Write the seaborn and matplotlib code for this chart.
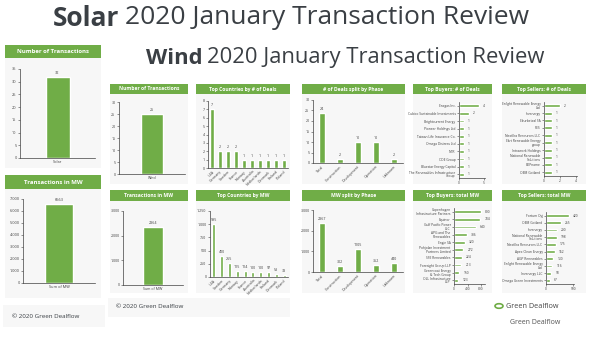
import matplotlib
matplotlib.use("Agg")
import matplotlib.pyplot as plt
import seaborn as sns
from matplotlib.patches import Rectangle

W, H = 591, 338
sns.set_theme(style="white")
plt.rcParams['font.family'] = ['Open Sans', 'DejaVu Sans']

GREEN = "#70ad47"
PANEL = "#f7f7f7"
DARK = "#3a3f44"
AX = "#404040"

# ---------------- data ----------------
solar_count_cat = ["Solar"]
solar_count = [32]
solar_mw_cat = ["Sum of MW"]
solar_mw = [6563]

wind_count_cat = ["Wind"]
wind_count = [25]
wind_mw_cat = ["Sum of MW"]
wind_mw = [2364]

countries_deals = ["USA", "Germany", "Sweden", "France", "Norway", "Australia",
                   "Netherlands", "Denmark", "Finland", "Poland"]
countries_deals_val = [7, 2, 2, 2, 1, 1, 1, 1, 1, 1]

phases = ["Total", "Construction", "Development", "Operation", "Unknown"]
phase_deals = [24, 2, 10, 10, 2]
phase_mw = [2367, 302, 1105, 352, 440]

countries_mw = ["USA", "Sweden", "Germany", "Norway", "France", "Australia",
                "Netherlands", "Finland", "Denmark", "Poland"]
countries_mw_val = [995, 400, 265, 115, 114, 100, 100, 97, 53, 33]

buyers_deals = ["Enagas Inc.", "Cubico Sustainable Investments", "Brightcurrent Energy",
                "Pioneer Holdings Ltd", "Taiwan Life Insurance Co.", "Omega Distress Ltd",
                "NTR", "CDE Group", "Bluestar Energy Capital",
                "The Renewables Infrastructure\nGroup"]
buyers_deals_val = [4, 2, 1, 1, 1, 1, 1, 1, 1, 1]

sellers_deals = ["Enlight Renewable Energy\nLtd", "Invenergy", "Ekurbetaal SA", "RES",
                 "NextEra Resources LLC", "Ekrt Renewable Energy\ngroup", "Intrawork Holdings",
                 "National Renewable\nSolutions", "EDPname", "OEM Gotland"]
sellers_deals_val = [2, 1, 1, 1, 1, 1, 1, 1, 1, 1]

buyers_mw = ["Copenhagen\nInfrastructure Partners", "Equinor", "Gulf Pacific Power\nLLC",
             "APG and The\nRenewables", "Engie SA", "Pohjolan Investment\nPartners Limited",
             "SSE Renewables", "Foresight Group LLP", "Greencoat Energy\n& Tech Group",
             "OLL Infrastructure\nLLP"]
buyers_mw_val = [800, 784, 640, 386, 320, 272, 224, 213, 150, 123]

sellers_mw = ["Fortum Oyj", "OEM Gotland", "Invenergy", "National Renewable\nSolutions",
              "NextEra Resources LLC", "Apex Clean Energy", "AGP Renewables",
              "Enlight Renewable Energy\nLtd", "Invenergy LLC", "Omega Green Investments"]
sellers_mw_val = [420, 265, 200, 198, 175, 162, 130, 116, 98, 67]

# ---------------- helpers ----------------
fig = plt.figure(figsize=(W / 100, H / 100), dpi=100)
fig.patch.set_facecolor("white")
renderer = fig.canvas.get_renderer()


def box(x0, y0, x1, y1, color, z=0):
    fig.add_artist(Rectangle((x0 / W, 1 - y1 / H), (x1 - x0) / W, (y1 - y0) / H,
                             transform=fig.transFigure, facecolor=color,
                             edgecolor="none", zorder=z))


def header(x0, y0, x1, y1, text, fs):
    box(x0, y0, x1, y1, GREEN, z=1)
    fig.text((x0 + x1) / 2 / W, 1 - (y0 + y1) / 2 / H, text, color="white",
             fontsize=fs, fontweight="bold", ha="center", va="center", zorder=2)


def title(x, y, bold, rest, fs):
    t = fig.text(x / W, 1 - y / H, bold, fontsize=fs, fontweight="bold", color=DARK,
                 ha="left", va="center", zorder=2)
    bb = t.get_window_extent(renderer)
    fig.text(bb.x1 / W + fs * 0.28 / W, 1 - y / H, rest, fontsize=fs, color=DARK,
             ha="left", va="center", zorder=2)


def ax_at(x0, y0, x1, y1):
    ax = fig.add_axes([x0 / W, 1 - y1 / H, (x1 - x0) / W, (y1 - y0) / H])
    ax.set_zorder(3)
    ax.patch.set_alpha(0)
    for s in ["top", "right"]:
        ax.spines[s].set_visible(False)
    for s in ["left", "bottom"]:
        ax.spines[s].set_color(AX)
        ax.spines[s].set_linewidth(0.5)
    return ax


def fmt_thousands(v):
    return f"{v:,}".replace(",", ".")


def vbar(ax, cats, vals, ymax, step, width, fs=2.6, rot=0, thousand=False):
    sns.barplot(x=cats, y=vals, order=cats, color=GREEN, saturation=1,
                width=width, ax=ax)
    ax.set_ylim(0, ymax)
    ticks = list(range(0, ymax + 1, step))
    ax.set_yticks(ticks)
    ax.set_yticklabels([fmt_thousands(t) if thousand else str(t) for t in ticks],
                       fontsize=fs, color=AX)
    ax.tick_params(axis="y", length=1.5, width=0.4, pad=1, left=True, color=AX)
    ax.tick_params(axis="x", length=0, pad=1.2, labelsize=fs, colors=AX)
    ax.set_xlim(-0.5, len(cats) - 0.5)
    if rot:
        for lab in ax.get_xticklabels():
            lab.set_rotation(rot)
            lab.set_ha("right")
            lab.set_rotation_mode("anchor")
    ax.bar_label(ax.containers[0], labels=[str(v) for v in vals], fontsize=fs,
                 padding=1.5, color=AX)
    ax.set_xlabel("")
    ax.set_ylabel("")


def hbar(ax, cats, vals, xmax, ticks, fs=2.3):
    sns.barplot(y=cats, x=vals, order=cats, color=GREEN, saturation=1,
                width=0.38, orient="h", ax=ax)
    ax.set_xlim(0, xmax)
    ax.set_xticks(ticks)
    ax.set_xticklabels([str(t) for t in ticks], fontsize=fs, color=AX)
    ax.tick_params(axis="x", length=1.5, width=0.4, pad=1, bottom=True, color=AX)
    ax.tick_params(axis="y", length=1.5, width=0.4, pad=1, left=True,
                   labelsize=fs, colors=AX)
    for lab in ax.get_yticklabels():
        lab.set_multialignment("right")
        lab.set_linespacing(0.9)
    ax.set_ylim(len(cats) - 0.5, -0.5)
    ax.bar_label(ax.containers[0], labels=[str(v) for v in vals], fontsize=fs,
                 padding=3, color=AX)
    ax.set_xlabel("")
    ax.set_ylabel("")


# ---------------- Solar slide (background) ----------------
title(53, 18, "Solar", "2020 January Transaction Review", 19)

box(5, 45, 101, 168, PANEL)
header(5, 45, 101, 58, "Number of Transactions", 4.3)
a = ax_at(20, 69, 95, 158)
vbar(a, solar_count_cat, solar_count, 35, 5, 0.32, fs=2.8)

box(5, 175, 101, 298, PANEL)
header(5, 175, 101, 189, "Transactions in MW", 4.3)
a = ax_at(23, 199, 95, 283)
vbar(a, solar_mw_cat, solar_mw, 7000, 1000, 0.39, fs=2.8, thousand=True)

box(3, 305, 105, 327, PANEL)
fig.text(12 / W, 1 - 316 / H, "© 2020 Green Dealflow", fontsize=4.5, color=DARK,
         ha="left", va="center")

# logo (solar, partially hidden)
fig.text(510 / W, 1 - 323 / H, "Green Dealflow", fontsize=5, color="#555555",
         ha="left", va="center")

# ---------------- Wind slide (overlay) ----------------
box(105, 38, W, 320, "white", z=0.5)
title(146, 58, "Wind", "2020 January Transaction Review", 15.8)

row1 = (84, 94, 184)
row2 = (190, 201, 293)
cols = [(110, 188), (196, 290), (302, 405), (413, 492), (502, 586)]
titles1 = ["Number of Transactions", "Top Countries by # of Deals",
           "# of Deals split by Phase", "Top Buyers: # of Deals", "Top Sellers: # of Deals"]
titles2 = ["Transactions in MW", "Top Countries by MW", "MW split by Phase",
           "Top Buyers: total MW", "Top Sellers: total MW"]
for (x0, x1), t1, t2 in zip(cols, titles1, titles2):
    box(x0, row1[0], x1, row1[2], PANEL, z=0.6)
    header(x0, row1[0], x1, row1[1], t1, 3.6)
    box(x0, row2[0], x1, row2[2], PANEL, z=0.6)
    header(x0, row2[0], x1, row2[1], t2, 3.6)

# row 1
a = ax_at(119, 102, 185, 174)
vbar(a, wind_count_cat, wind_count, 30, 5, 0.32)

a = ax_at(208, 101, 288, 168)
vbar(a, countries_deals, countries_deals_val, 8, 1, 0.4, rot=45)

a = ax_at(313, 100, 403, 163)
vbar(a, phases, phase_deals, 30, 5, 0.3, rot=45)

a = ax_at(459, 102, 485, 178)
hbar(a, buyers_deals, buyers_deals_val, 5.2, [0, 5])

a = ax_at(544, 102, 577, 176)
hbar(a, sellers_deals, sellers_deals_val, 4.1, [0, 2, 4])

# row 2
a = ax_at(123, 211, 183, 285)
vbar(a, wind_mw_cat, wind_mw, 3000, 1000, 0.32, thousand=True)

a = ax_at(210, 211, 288, 277)
vbar(a, countries_mw, countries_mw_val, 1250, 250, 0.4, rot=45, thousand=True)

a = ax_at(313, 210, 403, 272)
vbar(a, phases, phase_mw, 3000, 1000, 0.3, rot=45, thousand=True)

a = ax_at(454, 208, 485, 284)
hbar(a, buyers_mw, buyers_mw_val, 918, [0, 400, 800])

a = ax_at(546, 212, 574, 284)
hbar(a, sellers_mw, sellers_mw_val, 510, [0, 500])

# footer of wind slide
box(108, 298, 290, 317, PANEL, z=0.6)
fig.text(116 / W, 1 - 307 / H, "© 2020 Green Dealflow", fontsize=4.5, color=DARK,
         ha="left", va="center", zorder=2)
fig.add_artist(plt.Circle((499 / W, 1 - 306 / H), 4 / W, transform=fig.transFigure,
                          facecolor="none", edgecolor=GREEN, linewidth=1.2, zorder=2))
fig.text(506 / W, 1 - 306 / H, "Green Dealflow", fontsize=5.2, color="#444444",
         ha="left", va="center", zorder=2)

fig.savefig("out.png", dpi=100)
